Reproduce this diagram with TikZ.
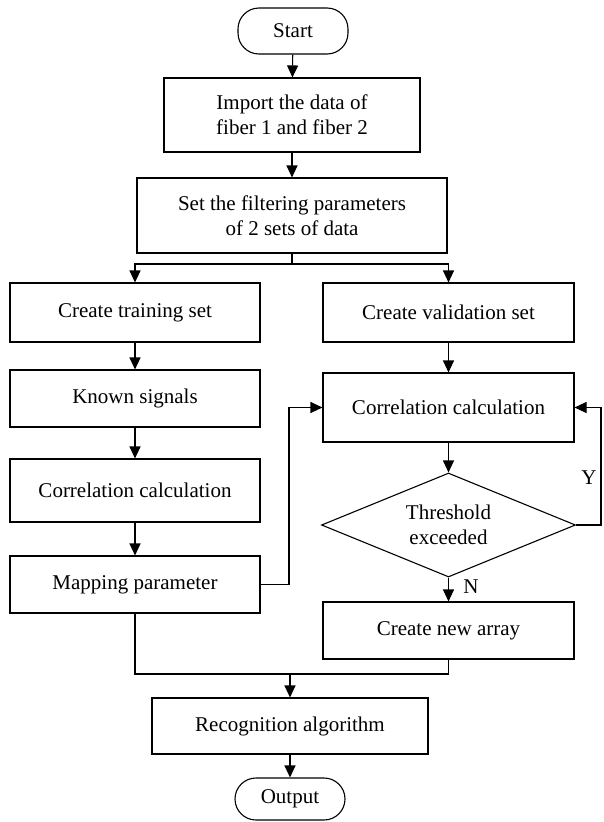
\documentclass[tikz,border=0pt]{standalone}
\usepackage{fontspec}
\setmainfont{Liberation Serif}
\usetikzlibrary{arrows.meta,shapes.geometric}
\begin{document}
\begin{tikzpicture}[x=1pt,y=-1pt,
  every node/.style={font=\fontsize{21}{25}\selectfont},
  box/.style={draw, line width=1.1pt, rectangle, align=center, inner sep=0pt},
  term/.style={draw, line width=1.1pt, rectangle, rounded corners=21pt, inner sep=0pt, minimum width=110pt},
  dec/.style={draw, line width=1.1pt, diamond, aspect=2.44, align=center, inner sep=0pt, minimum width=254pt, minimum height=104pt},
  arr/.style={line width=1.1pt, -{Triangle[length=12pt,width=11pt]}},
  conn/.style={line width=1.1pt},
  lbl/.style={inner sep=0pt}]
\useasboundingbox (0,0) rectangle (603,822);

\node[term, minimum height=46pt] (start) at (293,31) {Start};
\node[box, minimum width=256pt, minimum height=74pt] (import) at (292,115) {Import the data of\\fiber 1 and fiber 2};
\node[box, minimum width=310pt, minimum height=75pt] (set) at (292,215.5) {Set the filtering parameters\\of 2 sets of data};
\node[box, minimum width=250pt, minimum height=59pt] (train) at (135,312.5) {Create training set};
\node[box, minimum width=251pt, minimum height=59pt] (valid) at (448.5,312.5) {Create validation set};
\node[box, minimum width=250pt, minimum height=57pt] (known) at (135,398.5) {Known signals};
\node[box, minimum width=250pt, minimum height=63pt] (lcorr) at (135,490.5) {Correlation calculation};
\node[box, minimum width=250pt, minimum height=57pt] (map) at (135,584.5) {Mapping parameter};
\node[box, minimum width=251pt, minimum height=69pt] (rcorr) at (448.5,407.5) {Correlation calculation};
\node[dec] (dia) at (448.5,525) {Threshold\\exceeded};
\node[box, minimum width=251pt, minimum height=57pt] (new) at (448.5,630.5) {Create new array};
\node[box, minimum width=276pt, minimum height=56pt] (recog) at (290,726) {Recognition algorithm};
\node[term, minimum height=42pt] (out) at (290,799) {Output};

\node[lbl] (ylab) at (589,478) {Y};
\node[lbl] (nlab) at (471,587) {N};

\coordinate (split) at (292,264);
\coordinate (loopR) at (601,525);
\coordinate (mapR) at (289,584.5);
\coordinate (merge) at (290,674);

\draw[arr] (start) -- (import);
\draw[arr] (import) -- (set);
\draw[conn] (set.south) -- (split);
\draw[arr] (split) -| (train.north);
\draw[arr] (split) -| (valid.north);
\draw[arr] (train) -- (known);
\draw[arr] (known) -- (lcorr);
\draw[arr] (lcorr) -- (map);
\draw[arr] (valid) -- (rcorr);
\draw[arr] (rcorr) -- (dia);
\draw[arr] (dia) -- (new);
\draw[arr] (dia.east) -- (loopR) |- (rcorr.east);
\draw[arr] (map.east) -- (mapR) |- (rcorr.west);
\draw[conn] (map.south) |- (merge);
\draw[conn] (new.south) |- (merge);
\draw[arr] (merge) -- (recog);
\draw[arr] (recog) -- (out);
\end{tikzpicture}
\end{document}
